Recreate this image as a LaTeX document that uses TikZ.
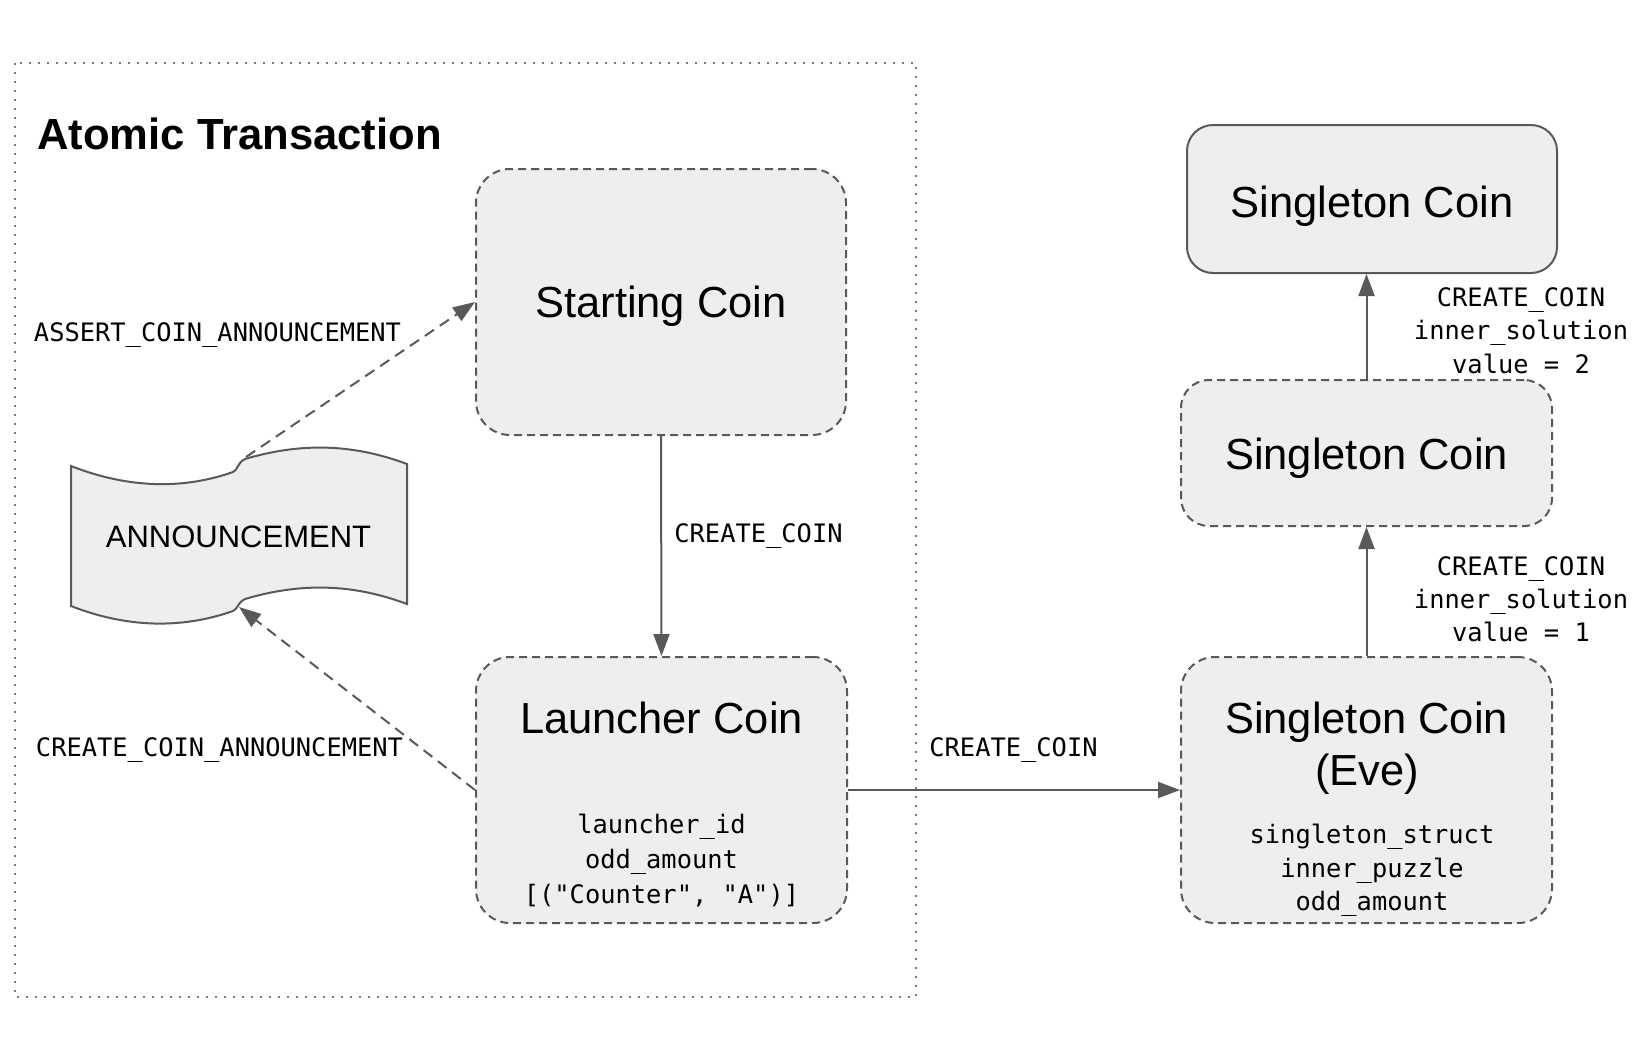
\documentclass[tikz,border=0pt]{standalone}
\usepackage{fontspec}
\setmainfont{Liberation Sans}
\newfontfamily\monof{DejaVu Sans Mono}
\usetikzlibrary{arrows.meta}
\definecolor{edgegray}{HTML}{595959}
\definecolor{boxfill}{HTML}{EEEEEE}
\definecolor{framegray}{HTML}{7A7A7A}
\begin{document}
\begin{tikzpicture}[x=1pt,y=-1pt,
  coin/.style={draw=edgegray, fill=boxfill, line width=2pt, dash pattern=on 8pt off 5pt, rounded corners=34pt, inner sep=0pt},
  solidcoin/.style={draw=edgegray, fill=boxfill, line width=2pt, rounded corners=26pt, inner sep=0pt},
  big/.style={inner sep=0pt, anchor=base, font=\fontsize{43.5}{52}\selectfont},
  mono/.style={inner sep=0pt, anchor=base, font=\monof\fontsize{25.4}{34}\selectfont},
  conn/.style={draw=edgegray, line width=2pt, -{Triangle[length=22pt,width=16pt]}},
  dconn/.style={conn, dash pattern=on 11pt off 7pt},
]
\useasboundingbox (0,0) rectangle (1652,1050);

% atomic transaction frame
\draw[framegray, line width=2pt, dash pattern=on 2pt off 7pt] (15,63) rectangle (916,997);
\node[inner sep=0pt, anchor=base west, font=\bfseries\fontsize{43.6}{50}\selectfont] (title) at (37,149) {Atomic Transaction};

% announcement tape shape
\draw[edgegray, fill=boxfill, line width=2pt]
  (71,466) .. controls (127,488) and (182,490) .. (233,472)
  .. controls (238,470) and (237,463) .. (245,459)
  .. controls (299,443) and (351,443) .. (407,464)
  -- (407,604)
  .. controls (351,583) and (299,583) .. (245,599)
  .. controls (237,603) and (238,609) .. (233,611)
  .. controls (182,629) and (127,628) .. (71,606) -- cycle;
\node[inner sep=0pt, anchor=base, font=\fontsize{31}{36}\selectfont] (ann) at (238.5,547) {ANNOUNCEMENT};
\coordinate (annTop) at (246,457);
\coordinate (annBot) at (239,607);

% coin boxes
\node[coin, minimum width=370pt, minimum height=266pt] (start) at (661,302) {};
\node[coin, minimum width=371pt, minimum height=266pt] (launch) at (661.5,790) {};
\node[coin, minimum width=371pt, minimum height=266pt] (eve) at (1366.5,790) {};
\node[coin, minimum width=371pt, minimum height=146pt, rounded corners=28pt] (mid) at (1366.5,453) {};
\node[solidcoin, minimum width=370pt, minimum height=148pt] (top) at (1372,199) {};

% texts in boxes
\node[big] (startT) at (661,317) {Starting Coin};
\node[big] (launchT) at (661.5,733) {Launcher Coin};
\node[mono] (launchA) at (661.5,833) {launcher\_id};
\node[mono] (launchB) at (661.5,868) {odd\_amount};
\node[mono] (launchC) at (661.5,903) {[("Counter", "A")]};
\node[big] (eveT) at (1366.5,733) {Singleton Coin};
\node[big] (eveU) at (1367,785) {(Eve)};
\node[mono] (eveA) at (1372,843) {singleton\_struct};
\node[mono] (eveB) at (1372,877) {inner\_puzzle};
\node[mono] (eveC) at (1372,910) {odd\_amount};
\node[big] (midT) at (1366.5,469) {Singleton Coin};
\node[big] (topT) at (1372,217) {Singleton Coin};

% connectors
\draw[dconn] (annTop) -- (start.west);
\draw[dconn] (launch.west) -- (annBot);
\draw[conn] (start.south) -- (launch.north);
\draw[conn] (launch.east) -- (eve.west);
\draw[conn] (eve.north) -- (mid.south);
\draw[conn] (mid.north) -- (mid.north |- top.south);

% connector labels
\node[mono] (lblAssert) at (217.5,341) {ASSERT\_COIN\_ANNOUNCEMENT};
\node[mono] (lblCreateAnn) at (219.5,756) {CREATE\_COIN\_ANNOUNCEMENT};
\node[mono] (lblDown) at (758.5,542) {CREATE\_COIN};
\node[mono] (lblRight) at (1013.5,756) {CREATE\_COIN};
\node[mono] (lblU1) at (1521,306) {CREATE\_COIN};
\node[mono] (lblU2) at (1521,339) {inner\_solution};
\node[mono] (lblU3) at (1521,373) {value = 2};
\node[mono] (lblL1) at (1521,575) {CREATE\_COIN};
\node[mono] (lblL2) at (1521,608) {inner\_solution};
\node[mono] (lblL3) at (1521,641) {value = 1};
\end{tikzpicture}
\end{document}
